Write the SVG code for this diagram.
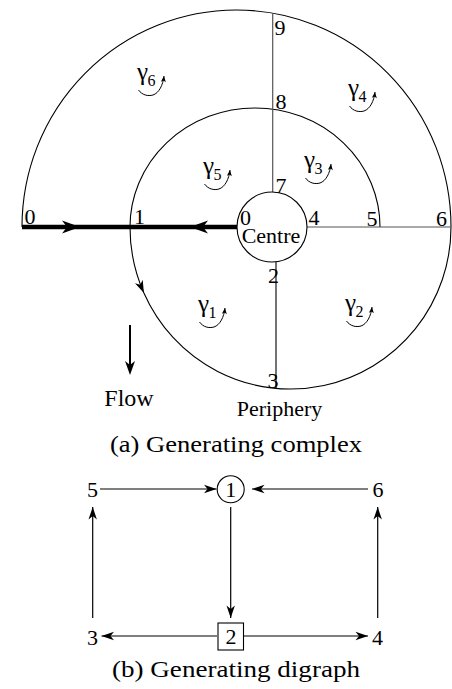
<svg xmlns="http://www.w3.org/2000/svg" width="452" height="689" viewBox="0 0 452 689">
<style>
text{font-family:'Liberation Serif','DejaVu Serif',serif;fill:#000}
.lbl{font-size:22px;text-anchor:middle}
.thin{fill:none;stroke:#000;stroke-width:1.1}
.grey{fill:none;stroke:#555;stroke-width:1.2}
.edge{fill:none;stroke:#000;stroke-width:1.2;marker-end:url(#ah)}
.g{font-size:25px}
.sub{font-size:16px}
.cap{font-size:23px;text-anchor:middle}
.rot{fill:none;stroke:#000;stroke-width:1;marker-end:url(#sh)}
</style>
<defs>
<marker id="ah" markerUnits="userSpaceOnUse" markerWidth="14" markerHeight="10" viewBox="-13 -5 14 10" refX="0" refY="0" orient="auto"><path d="M0,0 L-12.5,-4.2 L-9,0 L-12.5,4.2 Z" fill="#000"/></marker>
<marker id="fh" markerUnits="userSpaceOnUse" markerWidth="16" markerHeight="12" viewBox="-15 -6 16 12" refX="-3" refY="0" orient="auto"><path d="M0,0 L-14,-5 L-10,0 L-14,5 Z" fill="#000"/></marker>
<marker id="sh" markerUnits="userSpaceOnUse" markerWidth="8" markerHeight="6" viewBox="-7 -3 8 6" refX="0" refY="0" orient="auto"><path d="M0,0 L-6,-2.5 L-4.5,0 L-6,2.5 Z" fill="#000"/></marker>
<path id="big" d="M0,0 L-18,-6.5 L-13,0 L-18,6.5 Z" fill="#000"/>
</defs>

<g id="complex" font-family="Liberation Serif, DejaVu Serif, serif">
  <g id="arcs">
    <path class="thin" d="M22,227 A214.5,217 0 0 1 451,227"/>
    <path class="thin" d="M130,227 A125,119 0 0 1 380,227"/>
    <path class="thin" d="M130,227 A160.5,162 0 0 0 143.9,293" marker-end="url(#ah)"/>
    <path class="thin" d="M143.9,293 A160.5,162 0 0 0 451,227"/>
    <line class="grey" x1="272.7" y1="13" x2="272.7" y2="192"/>
    <line class="grey" x1="307" y1="227" x2="451" y2="227"/>
    <line class="thin" x1="276" y1="262" x2="276" y2="388.5"/>
  </g>
  <g id="inflow">
    <line x1="22" y1="227" x2="237" y2="227" stroke="#000" stroke-width="4.5"/>
    <use href="#big" transform="translate(80,227)"/>
    <use href="#big" transform="translate(190,227) rotate(180)"/>
  </g>
  <g id="centre">
    <circle cx="272" cy="227" r="35" fill="none" stroke="#000" stroke-width="1.1"/>
    <text class="lbl" x="271" y="242.5">Centre</text>
  </g>
  <g id="points">
    <text class="lbl" x="30" y="224">0</text>
    <text class="lbl" x="139.5" y="224">1</text>
    <text class="lbl" x="245.5" y="225">0</text>
    <text class="lbl" x="314" y="225">4</text>
    <text class="lbl" x="372" y="226">5</text>
    <text class="lbl" x="441.5" y="226">6</text>
    <text class="lbl" x="281" y="193">7</text>
    <text class="lbl" x="281" y="109">8</text>
    <text class="lbl" x="280" y="35">9</text>
    <text class="lbl" x="273.5" y="283">2</text>
    <text class="lbl" x="273" y="388">3</text>
  </g>
  <g id="gamma6" transform="translate(137,67)">
    <text class="g" x="0" y="12.5">γ<tspan class="sub" x="10.5" y="19">6</tspan></text>
    <path class="rot" d="M1.5,23 C5,28 11,29.5 16,28 C22,26 26,18 27,9"/>
  </g>
  <g id="gamma4" transform="translate(348,83)">
    <text class="g" x="0" y="12.5">γ<tspan class="sub" x="10.5" y="19">4</tspan></text>
    <path class="rot" d="M1.5,23 C5,28 11,29.5 16,28 C22,26 26,18 27,9"/>
  </g>
  <g id="gamma5" transform="translate(203,161)">
    <text class="g" x="0" y="12.5">γ<tspan class="sub" x="10.5" y="19">5</tspan></text>
    <path class="rot" d="M1.5,23 C5,28 11,29.5 16,28 C22,26 26,18 27,9"/>
  </g>
  <g id="gamma3" transform="translate(304,155)">
    <text class="g" x="0" y="12.5">γ<tspan class="sub" x="10.5" y="19">3</tspan></text>
    <path class="rot" d="M1.5,23 C5,28 11,29.5 16,28 C22,26 26,18 27,9"/>
  </g>
  <g id="gamma1" transform="translate(198,299)">
    <text class="g" x="0" y="12.5">γ<tspan class="sub" x="10.5" y="19">1</tspan></text>
    <path class="rot" d="M1.5,23 C5,28 11,29.5 16,28 C22,26 26,18 27,9"/>
  </g>
  <g id="gamma2" transform="translate(345,298)">
    <text class="g" x="0" y="12.5">γ<tspan class="sub" x="10.5" y="19">2</tspan></text>
    <path class="rot" d="M1.5,23 C5,28 11,29.5 16,28 C22,26 26,18 27,9"/>
  </g>
  <g id="flow">
    <line x1="130" y1="325" x2="130" y2="372" stroke="#000" stroke-width="2" marker-end="url(#fh)"/>
    <text x="129" y="406" font-size="24" text-anchor="middle">Flow</text>
  </g>
  <g id="periphery">
    <text class="lbl" x="279.5" y="416">Periphery</text>
  </g>
  <text class="cap" x="236" y="452" textLength="252" lengthAdjust="spacingAndGlyphs">(a) Generating complex</text>
</g>

<g id="digraph">
  <g id="connectors">
    <line class="edge" x1="100" y1="489" x2="216.5" y2="489"/>
    <line class="edge" x1="368" y1="489" x2="252" y2="489"/>
    <line class="edge" x1="230.7" y1="507" x2="230.7" y2="618"/>
    <line class="edge" x1="92.7" y1="618" x2="92.7" y2="507"/>
    <line class="edge" x1="377.7" y1="618" x2="377.7" y2="507"/>
    <line class="edge" x1="217" y1="636" x2="101.5" y2="636"/>
    <line class="edge" x1="244" y1="636" x2="368" y2="636"/>
  </g>
  <g id="n1">
    <circle cx="230.7" cy="489.3" r="13.5" fill="none" stroke="#000" stroke-width="1.1"/>
    <text class="lbl" x="230.7" y="497">1</text>
  </g>
  <g id="n2">
    <rect x="218" y="623" width="25.5" height="27" fill="none" stroke="#000" stroke-width="1.1"/>
    <text class="lbl" x="231" y="644">2</text>
  </g>
  <g id="n3"><text class="lbl" x="92.5" y="645">3</text></g>
  <g id="n4"><text class="lbl" x="377.5" y="645">4</text></g>
  <g id="n5"><text class="lbl" x="92.5" y="497">5</text></g>
  <g id="n6"><text class="lbl" x="378" y="497">6</text></g>
  <text class="cap" x="236" y="677" textLength="248" lengthAdjust="spacingAndGlyphs">(b) Generating digraph</text>
</g>
</svg>
